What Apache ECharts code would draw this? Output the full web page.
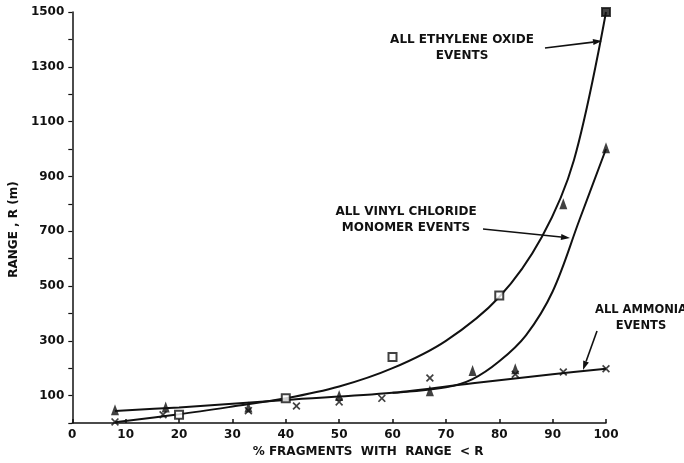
<!DOCTYPE html>
<html>
<head>
<meta charset="utf-8">
<script src="https://cdn.jsdelivr.net/npm/echarts@6/dist/echarts.min.js"></script>
<style>
  html, body { margin: 0; padding: 0; background: #fff; }
  #chart { width: 684px; height: 463px; }
</style>
</head>
<body>
<div id="chart"></div>
<script>
// measured points, [% fragments, range m]
const ethyleneMarks = [[20, 30], [40, 90], [60, 241], [80, 465], [100, 1500]];
const vinylMarks = [[8, 48], [17.5, 58], [33, 58], [50, 100], [67, 118], [75, 192], [83, 198], [92, 800], [100, 1005]];
const ammoniaMarks = [[8, 4], [17, 30], [33, 45], [42, 62], [50, 77], [58, 90], [67, 164], [83, 178], [92, 186], [100, 198]];

// hand drawn curves
const ethyleneCurve = [[8, 3], [20, 32], [30, 60], [40, 90], [50, 133], [60, 200], [70, 300], [80, 460], [88, 680], [94, 960], [100, 1500]];
const vinylCurve = [[60, 110], [70, 130], [75, 160], [80, 225], [85, 320], [90, 480], [95, 740], [100, 1000]];
const ammoniaCurve = [[8, 44], [20, 57], [40, 84], [60, 110], [75, 145], [90, 178], [100, 198]];

const yLabels = ['100', '300', '500', '700', '900', '1100', '1300', '1500'];

const FONT = 'DejaVu Sans';
const crossPath = 'path://M0,1.5 L1.5,0 L5,3.5 L8.5,0 L10,1.5 L6.5,5 L10,8.5 L8.5,10 L5,6.5 L1.5,10 L0,8.5 L3.5,5 Z';

const chart = echarts.init(document.getElementById('chart'));

function curve(data) {
  return {
    type: 'line',
    data: data,
    smooth: 0.35,
    showSymbol: false,
    silent: true,
    lineStyle: { color: '#111', width: 2 },
    z: 2,
  };
}

function arrow(x1, y1, x2, y2) {
  const ang = Math.atan2(y2 - y1, x2 - x1);
  const L = 9, W = 3;
  const bx = x2 - L * Math.cos(ang), by = y2 - L * Math.sin(ang);
  const px = -Math.sin(ang) * W, py = Math.cos(ang) * W;
  return [
    { type: 'line', shape: { x1: x1, y1: y1, x2: bx, y2: by }, style: { stroke: '#111', lineWidth: 1.6 } },
    { type: 'polygon', shape: { points: [[x2, y2], [bx + px, by + py], [bx - px, by - py]] }, style: { fill: '#111' } },
  ];
}

function note(x, y, text, size) {
  return {
    type: 'text', x: x, y: y,
    style: { text: text, fill: '#111', font: 'bold ' + size + 'px "' + FONT + '"', align: 'center', verticalAlign: 'top', lineHeight: 16 },
  };
}

// the last ethylene oxide square is drawn solid
const ethyleneData = ethyleneMarks.map((p, i) =>
  i === ethyleneMarks.length - 1 ? { value: p, itemStyle: { color: '#111' } } : p);

const option = {
  backgroundColor: '#fff',
  animation: false,
  grid: { left: 56, right: 78, top: 12, bottom: 40 },
  xAxis: {
    type: 'value', min: 0, max: 100, interval: 10,
    name: '% FRAGMENTS  WITH  RANGE  < R',
    nameLocation: 'middle', nameGap: 20,
    nameTextStyle: { fontFamily: FONT, fontWeight: 'bold', fontSize: 12, color: '#111', padding: [0, 0, 0, 58] },
    axisLine: { lineStyle: { color: '#111', width: 1.5 } },
    axisTick: { inside: true, length: 4, lineStyle: { color: '#111', width: 1.5 } },
    axisLabel: { fontFamily: FONT, fontWeight: 'bold', fontSize: 12, color: '#111', margin: 6 },
    splitLine: { show: false },
  },
  yAxis: {
    type: 'value', min: 0, max: 1500, interval: 100,
    name: 'RANGE , R (m)',
    nameLocation: 'middle', nameGap: 36, nameRotate: 90,
    nameTextStyle: { fontFamily: FONT, fontWeight: 'bold', fontSize: 12, color: '#111', padding: [0, 24, 0, 0], verticalAlign: 'middle' },
    axisLine: { show: true, lineStyle: { color: '#111', width: 1.5 } },
    axisTick: { show: true, length: 4, lineStyle: { color: '#111', width: 1.2 } },
    axisLabel: {
      fontFamily: FONT, fontWeight: 'bold', fontSize: 12, color: '#111', margin: 8,
      formatter: v => yLabels.indexOf(String(v)) >= 0 ? String(v) : '',
    },
    splitLine: { show: false },
  },
  graphic: [
    note(462, 32, 'ALL ETHYLENE OXIDE\nEVENTS', 12),
    note(406, 204, 'ALL VINYL CHLORIDE\nMONOMER EVENTS', 12),
    note(641, 302, 'ALL AMMONIA\nEVENTS', 11.5),
    ...arrow(545, 48, 602, 41),
    ...arrow(483, 229, 570, 238),
    ...arrow(597, 331, 583, 370),
  ],
  series: [
    curve(ethyleneCurve),
    curve(vinylCurve),
    curve(ammoniaCurve),
    {
      type: 'scatter', data: ethyleneData, symbol: 'rect', symbolSize: 8,
      itemStyle: { color: '#fff', borderColor: '#111', borderWidth: 2 }, z: 3,
    },
    {
      type: 'scatter', data: vinylMarks, symbol: 'triangle', symbolSize: [8, 11],
      itemStyle: { color: '#111' }, z: 3,
    },
    {
      type: 'scatter', data: ammoniaMarks, symbol: crossPath, symbolSize: 8,
      itemStyle: { color: '#111' }, z: 3,
    },
  ],
};

chart.setOption(option);
</script>
</body>
</html>
